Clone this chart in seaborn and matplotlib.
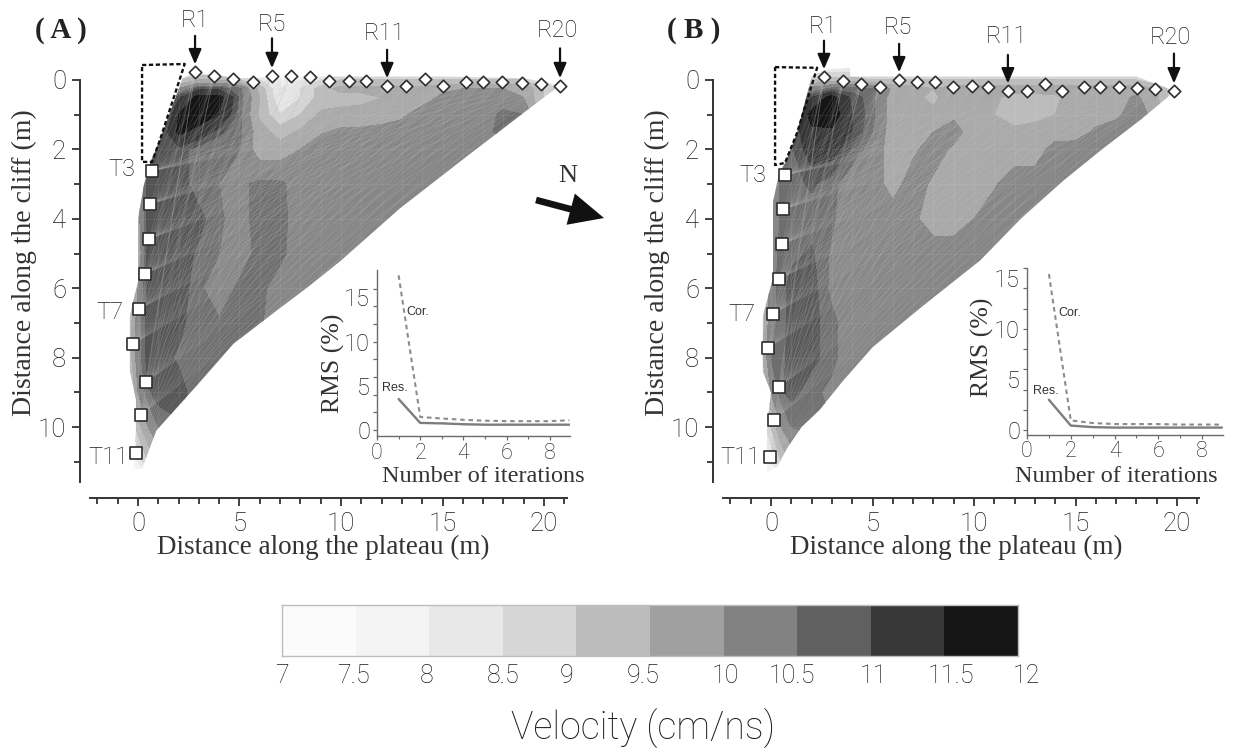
"""
Velocity tomography panels (A) and (B) with RMS insets and a shared grey scale.
"""

import numpy as np
import pandas as pd
import matplotlib
matplotlib.use("Agg")
import matplotlib.pyplot as plt
from matplotlib.collections import LineCollection
from matplotlib.colors import ListedColormap
from matplotlib.patches import Polygon, FancyArrowPatch
from matplotlib.ticker import MultipleLocator, FixedLocator, NullFormatter
import seaborn as sns

# grid nodes of the velocity maps (m)
grid_x = [-0.5, 0, 0.5, 1, 2, 3, 4, 5, 6, 7, 8, 9, 10, 11, 12, 13, 14, 15, 16, 17, 18, 19, 20, 21]
grid_y = [-0.5, 0, 0.25, 0.5, 1, 1.5, 2, 3, 4, 5, 6, 7, 8, 9, 10, 11, 11.5]

# velocity (cm/ns), one row per grid_y; a short row keeps its last value to the right
velocity_a = [
    [7.5],
    [8.5, 8.5, 8.5, 8.5, 9, 9.5, 9.5, 9, 8.5, 8, 8, 8.5, 9, 9, 9, 9, 9, 9, 9, 9, 9, 9, 8.5, 8],
    [9, 9, 9, 9, 10, 10.9, 10.9, 10.6, 9.3, 8, 8.5, 9.2, 9.7, 9.7, 9.7, 9.7, 9.7, 9.9, 10, 10, 10, 10, 9, 8],
    [9.5, 9.5, 9.5, 9.5, 10.9, 11.7, 11.7, 10.7, 9.5, 8, 8.5, 9.2, 9.25, 9.3, 9.5, 9.7, 9.75, 10.1, 10.25, 10.25, 10.25, 10, 9, 8],
    [10, 10, 10, 10, 11.5, 11.8, 11.5, 10.6, 9.4, 8.5, 9, 9.6, 9.7, 9.75, 9.75, 9.9, 10.25, 10.25, 10.25, 10.3, 10.6, 10.5, 9, 8],
    [10.5, 10.5, 10.5, 10.5, 11.6, 11.3, 10.8, 10.6, 9.7, 9.3, 9.6, 9.95, 10.1, 10.1, 10.2, 10.25, 10.25, 10.25, 10.25, 10.4, 10.6, 10.25],
    [10, 10, 10.5, 10.9, 10.9, 10.6, 10.6, 10.5, 9.7, 9.7, 10, 10.25],
    [8.5, 10, 10.9, 10.9, 10.9, 10.6, 10.5, 10.4, 10.6, 10.6, 10.25],
    [8, 9.8, 10.9, 10.9, 10.9, 10.85, 10.55, 10.35, 10.65, 10.65, 10.25],
    [8, 9.6, 10.9, 10.9, 10.9, 10.7, 10.5, 10.25, 10.65, 10.6, 10.25],
    [8.5, 10, 10.9, 10.9, 10.9, 10.6, 10.2, 10.6, 10.6, 10.3, 10.25],
    [9, 10.3, 10.9, 10.9, 10.85, 10.55, 10.55, 10.55, 10.55, 10.25],
    [9, 10.3, 10.9, 10.9, 10.7, 10.55, 10.5],
    [8.5, 10, 10.7, 10.9, 10.9, 10.55],
    [8, 9.3, 10, 10.5, 10.7, 10.55],
    [7.5, 8, 9, 9.5, 10, 10.5],
    [7.5],
]
velocity_b = [
    [7.5],
    [8.5, 8.5, 8.5, 8.5, 9, 9.3, 9.3, 9, 9, 9, 9, 9, 9, 9, 9, 9, 9, 9, 9, 9, 9, 8.5, 8, 8],
    [9, 9, 9, 9, 10.2, 10.6, 10.6, 10.6, 9.9, 9.75, 9.5, 9.75, 9.75, 9.75, 9.75, 9.75, 9.75, 9.75, 9.75, 9.75, 9.75, 9.5, 8.5, 8],
    [9.5, 9.5, 9.5, 10, 11, 11.7, 10.9, 10.6, 9.75, 9.6, 9.4, 9.75, 9.75, 9.6, 9.3, 9.3, 9.4, 9.75, 9.75, 9.75, 10.1, 9.6, 8.5, 8],
    [10, 10, 10, 10.6, 11.7, 11.8, 11, 10.6, 9.75, 9.6, 9.6, 9.9, 9.75, 9.5, 9.3, 9.3, 9.5, 9.75, 9.75, 9.9, 10.25, 9.8, 8.5, 8],
    [10.2, 10.2, 10.5, 10.7, 11.4, 11.4, 11, 10.5, 9.7, 9.7, 10, 10.2, 9.75, 9.75, 9.6, 9.75, 9.75, 9.75, 10.1, 10.25],
    [9.8, 10, 10.4, 10.7, 11.2, 11.2, 10.7, 10.3, 9.75, 9.9, 10.25, 9.9, 9.75, 9.75, 9.75, 9.75, 10.2, 10.25],
    [9, 10, 10.6, 10.65, 10.8, 10.6, 10.25, 10.25, 9.8, 10.25, 9.9, 9.75, 9.75, 9.95, 10.25],
    [8.5, 9.8, 10.6, 10.65, 10.6, 10.55, 10.25, 10.25, 10.25, 10.1, 9.75, 9.75, 10, 10.25],
    [8.5, 10.3, 10.6, 10.65, 10.8, 10.45, 10.25],
    [9, 10.4, 10.6, 10.9, 10.9, 10.4, 10.25],
    [9, 10.4, 10.6, 10.9, 10.85, 10.6, 10.25],
    [9.3, 10.5, 10.65, 10.9, 10.85, 10.6, 10.25],
    [8.5, 10, 10.7, 10.85, 10.6, 10.4, 10.25],
    [8, 9, 10, 10.5, 10.6, 10.5],
    [7.5, 8, 9, 9.5, 10, 10.25],
    [7.5],
]

# outline of the covered area
domain_a_x = [2.2, 2.8, 5, 8, 15, 19, 20.8, 19.1, 16.2, 12.9, 10, 8.4, 6.7, 4.7, 2.9, 0.9, 0.2, -0.2, -0.1, -0.1, -0.4, -0.4, 0, 0, 0.3, 0.6, 1.1]
domain_a_y = [-0.05, -0.2, -0.05, -0.1, -0.1, -0.05, 0.15, 0.9, 2.2, 3.7, 5.2, 5.95, 6.7, 7.6, 8.8, 10.1, 11.2, 11.2, 10, 9.2, 8.4, 6.8, 5.8, 4, 3, 2.4, 1.7]
domain_b_x = [2.0, 2.7, 3.9, 3.9, 13, 18, 19.9, 18.2, 16.3, 14.4, 12.3, 10.3, 7.5, 5, 3.5, 2.4, 1.5, 0.8, 0.3, -0.2, -0.2, 0, -0.4, -0.4, 0.1, 0.1, 0.4, 0.69, 1.28]
domain_b_y = [-0.1, -0.3, -0.35, -0.1, -0.1, -0.1, 0.32, 1.15, 2.0, 2.9, 4.0, 5.2, 6.5, 7.7, 8.7, 9.5, 10, 10.6, 11.15, 11.3, 10, 9, 8.4, 6.8, 5.7, 3.5, 2.7, 2.39, 1.53]

# dashed overhang outline
dash_a_x = [0.2, 2.3, 1.08, 0.69, 0.2, 0.2]
dash_a_y = [-0.43, -0.46, 1.73, 2.36, 2.36, -0.43]
dash_b_x = [0.2, 2.27, 1.28, 0.69, 0.2, 0.2]
dash_b_y = [-0.37, -0.35, 1.53, 2.39, 2.45, -0.37]

# receivers on the plateau (R1..R20) and transmitters on the cliff (T3..T11)
recv_a_x = [2.81, 3.74, 4.68, 5.67, 6.60, 7.54, 8.47, 9.41, 10.39, 11.23, 12.27, 13.2, 14.14, 15.02, 16.16, 17.0, 17.93, 18.92, 19.85, 20.79]
recv_a_y = [-0.23, -0.12, -0.03, 0.06, -0.12, -0.12, -0.09, 0.03, 0.03, 0.03, 0.17, 0.17, -0.03, 0.17, 0.06, 0.06, 0.06, 0.09, 0.12, 0.17]
trans_a_x = [0.69, 0.59, 0.54, 0.34, 0.05, -0.25, 0.39, 0.15, -0.10]
trans_a_y = [2.62, 3.57, 4.58, 5.59, 6.6, 7.61, 8.7, 9.65, 10.75]
recv_b_x = [2.61, 3.55, 4.43, 5.37, 6.31, 7.19, 8.08, 8.97, 9.90, 10.69, 11.67, 12.61, 13.5, 14.33, 15.42, 16.21, 17.14, 18.03, 18.92, 19.85]
recv_b_y = [-0.09, 0.03, 0.12, 0.2, 0, 0.06, 0.06, 0.2, 0.17, 0.2, 0.32, 0.32, 0.12, 0.32, 0.2, 0.2, 0.2, 0.23, 0.26, 0.32]
trans_b_x = [0.69, 0.59, 0.54, 0.39, 0.10, -0.15, 0.39, 0.15, -0.05]
trans_b_y = [2.74, 3.72, 4.73, 5.73, 6.74, 7.72, 8.85, 9.8, 10.86]

# RMS insets
iterations = [1, 2, 3, 4, 5, 6, 7, 8, 8.9]
cor_a = [17.5, 1.47, 1.3, 1.15, 1.05, 1.0, 1.0, 1.0, 1.1]
res_a = [3.5, 0.8, 0.75, 0.65, 0.6, 0.6, 0.6, 0.6, 0.6]
cor_b = [15.4, 0.96, 0.7, 0.6, 0.6, 0.6, 0.55, 0.55, 0.55]
res_b = [3.0, 0.45, 0.3, 0.25, 0.25, 0.25, 0.25, 0.25, 0.25]

# grey scale
scale_greys = ["#fbfbfb", "#f4f4f4", "#e8e8e8", "#d6d6d6", "#bcbcbc", "#a0a0a0", "#828282", "#606060", "#383838", "#151515"]
scale_labels = ["7", "7.5", "8", "8.5", "9", "9.5", "10", "10.5", "11", "11.5", "12"]
scale_label_px = [282, 353, 427, 503, 567, 643, 725, 792, 873, 951, 1026]

# map shading, with the 10.5-11 class split in two
map_levels = [7, 7.5, 8, 8.5, 9, 9.5, 10, 10.5, 10.75, 11, 11.5, 12]
map_greys = ["#fbfbfb", "#f4f4f4", "#e8e8e8", "#d6d6d6", "#bcbcbc", "#a8a8a8", "#868686", "#6e6e6e", "#545454", "#383838", "#151515"]

W, H = 1234, 753
INK = "#1c1c1c"
SERIF = "Liberation Serif"
ROUND = "Roboto"

sns.set_theme(style="white")
plt.rcParams["font.family"] = [ROUND, "DejaVu Sans"]
plt.rcParams["font.weight"] = "light"

fig = plt.figure(figsize=(W / 100, H / 100), dpi=100)


def px_axes(left, top, right, bottom):
    return fig.add_axes([left / W, 1 - bottom / H, (right - left) / W, (bottom - top) / H])


def px_text(x, y, s, **kw):
    kw.setdefault("ha", "center")
    kw.setdefault("va", "center")
    kw.setdefault("color", INK)
    fig.text(x / W, 1 - y / H, s, **kw)


def draw_panel(left, right, x_zero, velocity, dom_x, dom_y, dash_x, dash_y, recv_x, recv_y, trans_x, trans_y, arrow_starts):
    ax = px_axes(left, 14, right, 482)
    ax.patch.set_alpha(0)
    ax.set_xlim((left - x_zero) / 20.3, (right - x_zero) / 20.3)
    ax.set_ylim(11.58, -1.9)

    rows = [r + [r[-1]] * (len(grid_x) - len(r)) for r in velocity]
    cs = ax.contourf(grid_x, grid_y, np.array(rows), levels=map_levels, colors=map_greys)
    domain = Polygon(np.column_stack([dom_x, dom_y]), closed=True, transform=ax.transData, fc="none", ec="none")
    ax.add_patch(domain)
    cs.set_clip_path(domain)

    # faint survey grid and ray paths across the section
    for gx in range(0, 21):
        ax.plot([gx, gx], [0, 11.5], color="white", lw=0.5, alpha=0.1)[0].set_clip_path(domain)
    for gy in range(1, 11):
        ax.plot([-1, 21], [gy, gy], color="white", lw=0.5, alpha=0.1)[0].set_clip_path(domain)
    rays = [[(tx, ty), (rx, ry)] for tx, ty in zip(trans_x, trans_y) for rx, ry in zip(recv_x, recv_y)]
    ray_lines = LineCollection(rays, colors="#c0c0c0", linewidths=0.5, alpha=0.22)
    ax.add_collection(ray_lines)
    ray_lines.set_clip_path(domain)

    ax.plot(dash_x, dash_y, color="#111111", lw=1.7, ls=(0, (1.8, 1.1)), zorder=4)

    sns.scatterplot(x=recv_x, y=recv_y, marker="D", s=40, color="white", edgecolor="#2e2e2e", linewidth=1.2, ax=ax, zorder=6, clip_on=False)
    sns.scatterplot(x=trans_x, y=trans_y, marker="s", s=66, color="white", edgecolor="#2e2e2e", linewidth=1.2, ax=ax, zorder=6, clip_on=False)

    # arrows down onto R1, R5, R11, R20
    for idx, start in zip([0, 4, 10, 19], arrow_starts):
        ax.annotate("", xy=(recv_x[idx], recv_y[idx]), xytext=(0, start), textcoords="offset points",
                    arrowprops=dict(arrowstyle="-|>,head_width=0.32,head_length=0.75", color="#111111", lw=1.6,
                                    shrinkA=0, shrinkB=5.5), zorder=7)

    for side in ["top", "right"]:
        ax.spines[side].set_visible(False)
    ax.spines["left"].set_position(("outward", 7.2))
    ax.spines["bottom"].set_position(("outward", 11.5))
    ax.spines["left"].set_bounds(0, 11.58)
    for side in ["left", "bottom"]:
        ax.spines[side].set_linewidth(1.4)
        ax.spines[side].set_color("#333333")
    ax.set_xticks([0, 5, 10, 15, 20])
    ax.set_yticks([0, 2, 4, 6, 8, 10])
    ax.xaxis.set_minor_locator(MultipleLocator(1))
    ax.yaxis.set_minor_locator(FixedLocator(list(range(1, 12, 2))))
    ax.xaxis.set_ticks_position("bottom")
    ax.yaxis.set_ticks_position("left")
    ax.tick_params(axis="both", which="major", length=6, width=1.3, color="#333333", labelsize=18.5, labelcolor=INK, pad=4)
    ax.tick_params(axis="both", which="minor", length=4, width=1.3, color="#333333")
    ax.grid(False)
    return ax


def draw_inset(left, top, right, bottom, xmax, ylo, yhi, cor, res):
    ax = px_axes(left, top, right, bottom)
    ax.patch.set_alpha(0)
    data = pd.DataFrame({"iteration": iterations, "cor": cor, "res": res})
    sns.lineplot(data=data, x="iteration", y="cor", color="#8c8c8c", lw=1.5, ax=ax, linestyle=(0, (2.2, 1.8)))
    sns.lineplot(data=data, x="iteration", y="res", color="#7d7d7d", lw=1.7, ax=ax)
    ax.set_xlim(0, xmax)
    ax.set_ylim(ylo, yhi)
    ax.set_xlabel("")
    ax.set_ylabel("")
    for side in ["top", "right"]:
        ax.spines[side].set_visible(False)
    for side in ["left", "bottom"]:
        ax.spines[side].set_linewidth(1.0)
        ax.spines[side].set_color("#6a6a6a")
    ax.set_xticks([0, 2, 4, 6, 8])
    ax.xaxis.set_minor_locator(MultipleLocator(1))
    # the ticks run every 2 units, the labels sit at 0, 5, 10, 15
    ax.set_yticks(list(range(0, 17, 2)))
    ax.yaxis.set_major_formatter(NullFormatter())
    ax.yaxis.remove_overlapping_locs = False
    ax.set_yticks([0, 5, 10, 15], labels=["0", "5", "10", "15"], minor=True)
    ax.xaxis.set_ticks_position("bottom")
    ax.yaxis.set_ticks_position("left")
    ax.tick_params(axis="x", which="major", length=3, width=0.9, color="#6a6a6a", labelsize=15.5, labelcolor=INK, pad=2)
    ax.tick_params(axis="x", which="minor", length=2, width=0.8, color="#6a6a6a")
    ax.tick_params(axis="y", which="major", length=3, width=0.9, color="#6a6a6a")
    ax.tick_params(axis="y", which="minor", length=0, labelsize=17, labelcolor=INK, pad=5)
    ax.grid(False)
    return ax


draw_panel(90, 567, 138, velocity_a, domain_a_x, domain_a_y, dash_a_x, dash_a_y,
           recv_a_x, recv_a_y, trans_a_x, trans_a_y, [26, 27, 26, 27])
draw_panel(723, 1199, 771, velocity_b, domain_b_x, domain_b_y, dash_b_x, dash_b_y,
           recv_b_x, recv_b_y, trans_b_x, trans_b_y, [26, 26, 26, 27])

draw_inset(377, 270, 570, 436, 8.93, -0.68, 18.1, cor_a, res_a)
draw_inset(1027, 268, 1223, 434.5, 8.95, -0.43, 15.6, cor_b, res_b)

# axis titles
for x_c, y_c in [(24, 263), (657, 263)]:
    px_text(x_c, y_c, "Distance along the cliff (m)", rotation=90, family=SERIF, fontsize=20, fontweight="normal", color="#333333")
for x_c in [323, 956]:
    px_text(x_c, 547, "Distance along the plateau (m)", family=SERIF, fontsize=19.5, fontweight="normal", color="#333333")
px_text(333, 363, "RMS (%)", rotation=90, family=SERIF, fontsize=18.5, fontweight="normal", color="#333333")
px_text(982, 347, "RMS (%)", rotation=90, family=SERIF, fontsize=18.5, fontweight="normal", color="#333333")
px_text(483, 476, "Number of iterations", family=SERIF, fontsize=17.5, fontweight="normal", color="#333333")
px_text(1116, 476, "Number of iterations", family=SERIF, fontsize=17.5, fontweight="normal", color="#333333")

# panel letters
px_text(61, 30, "( A )", family=SERIF, fontsize=21, fontweight="bold", color="#222222")
px_text(694, 30, "( B )", family=SERIF, fontsize=21, fontweight="bold", color="#222222")

# receiver and transmitter names
for x_c, y_c, name in [(195, 20, "R1"), (272, 24, "R5"), (384, 33, "R11"), (557, 30, "R20"),
                       (823, 26, "R1"), (898, 27, "R5"), (1007, 36, "R11"), (1170, 37, "R20"),
                       (122, 170, "T3"), (110, 312, "T7"), (108, 458, "T11"),
                       (753, 175, "T3"), (742, 314, "T7"), (740, 458, "T11")]:
    px_text(x_c, y_c, name, fontsize=17)

# inset curve names
for x_c, y_c, name in [(418, 312, "Cor."), (395, 388, "Res."), (1070, 313, "Cor."), (1046, 391, "Res.")]:
    px_text(x_c, y_c, name, family="Liberation Sans", fontsize=9, fontweight="normal", color="#333333")

# north arrow
px_text(568, 176, "N", family=SERIF, fontsize=19, fontweight="normal", color="#333333")
fig.add_artist(FancyArrowPatch(
    (536 / W, 1 - 200 / H), (604 / W, 1 - 218 / H), transform=fig.transFigure,
    arrowstyle="simple,head_length=1.55,head_width=1.45,tail_width=0.3", mutation_scale=16,
    color="#111111", lw=0, shrinkA=0, shrinkB=0))

# grey scale bar
bar_ax = px_axes(282, 605, 1018, 656)
sns.heatmap(np.arange(len(scale_greys)).reshape(1, -1), cmap=ListedColormap(scale_greys), cbar=False,
            xticklabels=False, yticklabels=False, ax=bar_ax, linewidths=0)
for spine in bar_ax.spines.values():
    spine.set_visible(True)
    spine.set_color("#bdbdbd")
    spine.set_linewidth(1.0)
for x_c, name in zip(scale_label_px, scale_labels):
    px_text(x_c, 676, name, fontsize=18)
px_text(643, 728, "Velocity (cm/ns)", fontsize=27)

fig.savefig("out.png", dpi=100)
